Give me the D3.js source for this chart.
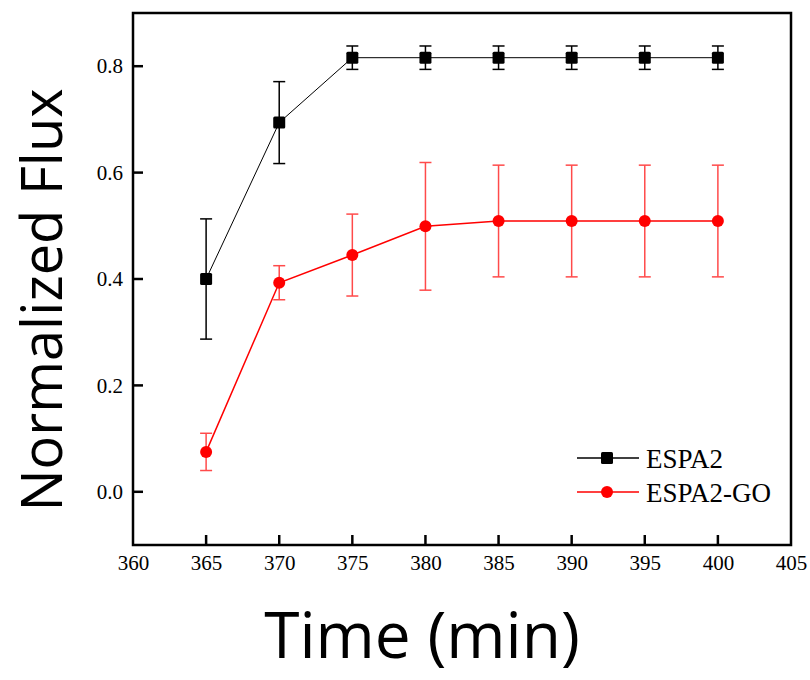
<!DOCTYPE html>
<html>
<head>
<meta charset="utf-8">
<script src="https://cdn.jsdelivr.net/npm/d3@7"></script>
<style>
  body { margin: 0; background: #fff; }
  svg text { fill: #000; }
</style>
</head>
<body>
<div id="chart"></div>
<script>
const times = [365, 370, 375, 380, 385, 390, 395, 400];
const espa2 = [0.400, 0.694, 0.816, 0.816, 0.816, 0.816, 0.816, 0.816];
const espa2Err = [0.113, 0.077, 0.022, 0.022, 0.022, 0.022, 0.022, 0.022];
const espa2go = [0.075, 0.393, 0.445, 0.499, 0.509, 0.509, 0.509, 0.509];
const espa2goErr = [0.035, 0.032, 0.077, 0.120, 0.105, 0.105, 0.105, 0.105];
const xTicks = [360, 365, 370, 375, 380, 385, 390, 395, 400, 405];
const yTicks = [0.0, 0.2, 0.4, 0.6, 0.8];
const seriesNames = ['ESPA2', 'ESPA2-GO'];

const w = 810, h = 680;
const pL = 133, pR = 791, pT = 13, pB = 545;

const svg = d3.select('#chart').append('svg').attr('width', w).attr('height', h);

const x = d3.scaleLinear().domain([360, 405]).range([pL, pR]);
const y = d3.scaleLinear().domain([-0.1, 0.9]).range([pB, pT]);

// x axis: labels below, ticks pointing inward
const xAxis = svg.append('g').attr('transform', `translate(0,${pB})`)
  .call(d3.axisBottom(x).tickValues(xTicks).tickSize(0).tickPadding(10).tickFormat(d3.format('d')));
xAxis.select('.domain').remove();
xAxis.selectAll('text').attr('font-family', '"Liberation Serif", serif').attr('font-size', 21);
svg.append('g').selectAll('line').data(xTicks.filter(t => t > 360 && t < 405)).enter().append('line')
  .attr('x1', d => x(d)).attr('x2', d => x(d)).attr('y1', pB).attr('y2', pB - 10)
  .attr('stroke', '#000').attr('stroke-width', 2.5);

const yAxis = svg.append('g').attr('transform', `translate(${pL},0)`)
  .call(d3.axisLeft(y).tickValues(yTicks).tickSize(0).tickPadding(10).tickFormat(d3.format('.1f')));
yAxis.select('.domain').remove();
yAxis.selectAll('text').attr('font-family', '"Liberation Serif", serif').attr('font-size', 21);
svg.append('g').selectAll('line').data(yTicks).enter().append('line')
  .attr('x1', pL).attr('x2', pL + 10).attr('y1', d => y(d)).attr('y2', d => y(d))
  .attr('stroke', '#000').attr('stroke-width', 2.5);

svg.append('rect').attr('x', pL).attr('y', pT).attr('width', pR - pL).attr('height', pB - pT)
  .attr('fill', 'none').attr('stroke', '#000').attr('stroke-width', 2.5);

function drawSeries(vals, errs, color, errColor, lineW, shape) {
  const g = svg.append('g');
  const line = d3.line().x((d, i) => x(times[i])).y(d => y(d));
  g.append('path').datum(vals).attr('d', line).attr('fill', 'none')
    .attr('stroke', color).attr('stroke-width', lineW);
  const eb = g.selectAll('.eb').data(vals).enter().append('g');
  eb.append('line').attr('x1', (d, i) => x(times[i])).attr('x2', (d, i) => x(times[i]))
    .attr('y1', (d, i) => y(d + errs[i])).attr('y2', (d, i) => y(d - errs[i]))
    .attr('stroke', errColor).attr('stroke-width', 1.5);
  [1, -1].forEach(s => {
    eb.append('line').attr('x1', (d, i) => x(times[i]) - 6).attr('x2', (d, i) => x(times[i]) + 6)
      .attr('y1', (d, i) => y(d + s * errs[i])).attr('y2', (d, i) => y(d + s * errs[i]))
      .attr('stroke', errColor).attr('stroke-width', 1.5);
  });
  if (shape === 'square') {
    g.selectAll('.m').data(vals).enter().append('rect')
      .attr('x', (d, i) => x(times[i]) - 6).attr('y', d => y(d) - 6)
      .attr('width', 12).attr('height', 12).attr('rx', 1.5).attr('fill', color);
  } else {
    g.selectAll('.m').data(vals).enter().append('circle')
      .attr('cx', (d, i) => x(times[i])).attr('cy', d => y(d)).attr('r', 6).attr('fill', color);
  }
}

drawSeries(espa2, espa2Err, '#000', '#000', 1, 'square');
drawSeries(espa2go, espa2goErr, '#ff0000', '#ff4a4a', 1.5, 'circle');

// legend
const legend = svg.append('g');
const legendRows = [
  { name: seriesNames[0], color: '#000', shape: 'square', yy: 458 },
  { name: seriesNames[1], color: '#ff0000', shape: 'circle', yy: 492 }
];
legendRows.forEach(r => {
  legend.append('line').attr('x1', 577).attr('x2', 639).attr('y1', r.yy).attr('y2', r.yy)
    .attr('stroke', r.color).attr('stroke-width', 1.5);
  if (r.shape === 'square') {
    legend.append('rect').attr('x', 601).attr('y', r.yy - 6).attr('width', 12).attr('height', 12)
      .attr('rx', 1.5).attr('fill', r.color);
  } else {
    legend.append('circle').attr('cx', 607).attr('cy', r.yy).attr('r', 6).attr('fill', r.color);
  }
  legend.append('text').attr('x', 646).attr('y', r.yy + 9.5).text(r.name)
    .attr('font-family', '"Liberation Serif", serif').attr('font-size', 27);
});

svg.append('text').attr('x', 422).attr('y', 658).attr('text-anchor', 'middle')
  .attr('font-family', '"Open Sans", Lato, sans-serif').attr('font-size', 64).text('Time (min)');
svg.append('text').attr('transform', 'translate(62,300) rotate(-90)').attr('text-anchor', 'middle')
  .attr('font-family', '"Open Sans", Lato, sans-serif').attr('font-size', 56).text('Normalized Flux');
</script>
</body>
</html>
